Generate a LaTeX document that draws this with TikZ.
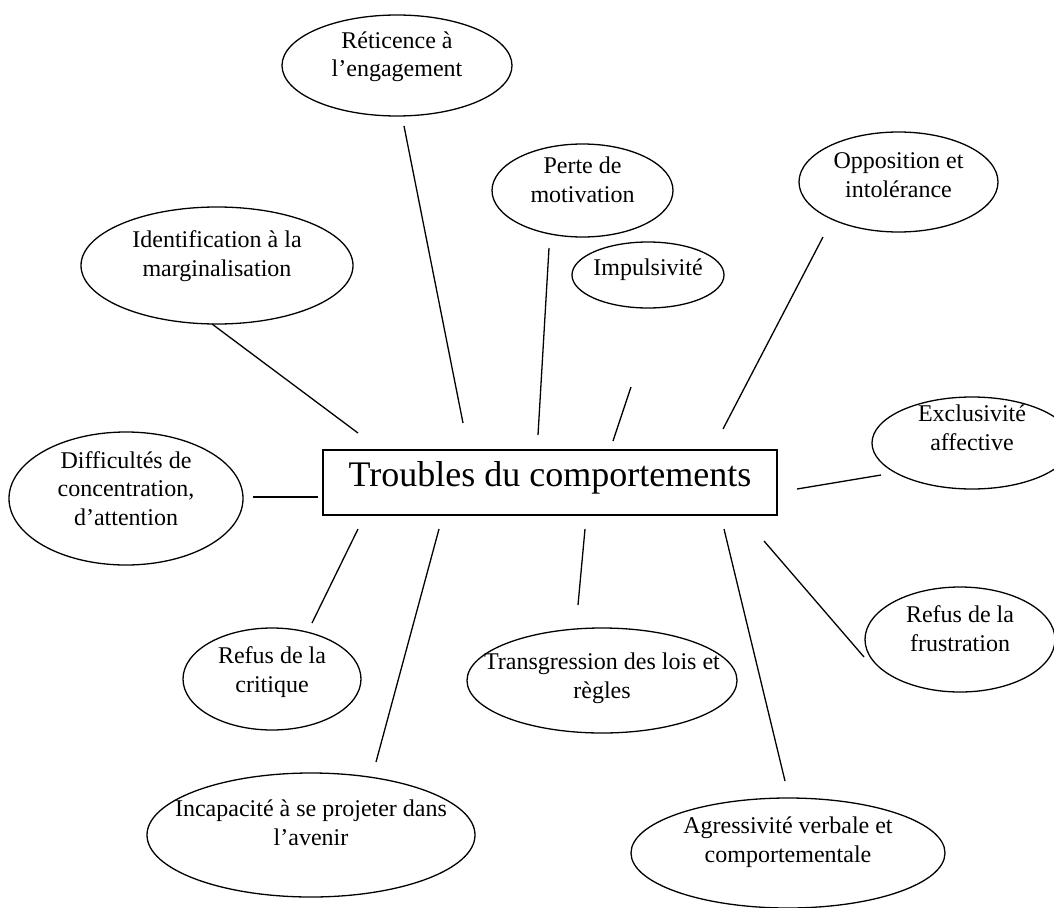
\documentclass[tikz,border=0pt]{standalone}
\usepackage{fontspec}
\setmainfont{Liberation Serif}
\usepackage{tikz}
\usetikzlibrary{shapes}

\begin{document}
\begin{tikzpicture}[x=1pt, y=-1pt, -, line width=1.3pt,
  main node/.style={ellipse, draw, inner sep=0pt},
  box node/.style={rectangle, draw, inner sep=0pt, minimum width=454pt, minimum height=65pt, text height=24pt, text depth=16pt, font=\fontsize{36}{40}\selectfont},
  txt/.style={align=center, font=\fontsize{24}{28.5}\selectfont}]
\clip (0,0) rectangle (1054,907);
\node[box node] (0) at (550,482.5) {Troubles du comportements};
\node[main node, minimum width=230pt, minimum height=101pt, label={[txt, yshift=8.6pt]center:Réticence à\\l’engagement}] (1) at (397,65.5) {};
\node[main node, minimum width=181pt, minimum height=93pt, label={[txt, yshift=10.7pt]center:Perte de\\motivation}] (2) at (582.5,190.5) {};
\node[main node, minimum width=199pt, minimum height=100pt, label={[txt, yshift=7pt]center:Opposition et\\intolérance}] (3) at (898.5,182) {};
\node[main node, minimum width=272pt, minimum height=117pt, label={[txt, yshift=9.6pt]center:Identification à la\\marginalisation}] (4) at (217,265.5) {};
\node[main node, minimum width=152pt, minimum height=66pt, label={[txt, yshift=5pt]center:Impulsivité}] (5) at (648,275) {};
\node[main node, minimum width=200pt, minimum height=92pt, label={[txt, yshift=15pt]center:Exclusivité\\affective}] (6) at (972,443) {};
\node[main node, minimum width=234pt, minimum height=133pt, label={[txt, yshift=10pt]center:Difficultés de\\concentration,\\d’attention}] (7) at (126,498.5) {};
\node[main node, minimum width=178pt, minimum height=102pt, label={[txt, yshift=7pt]center:Refus de la\\critique}] (8) at (272,679) {};
\node[main node, minimum width=328pt, minimum height=124pt, label={[txt, yshift=12pt]center:Incapacité à se projeter dans\\l’avenir}] (9) at (311,835) {};
\node[main node, minimum width=270pt, minimum height=105pt, label={[txt, yshift=2pt]center:Transgression des lois et\\règles}] (10) at (602,680.5) {};
\node[main node, minimum width=314pt, minimum height=110pt, label={[txt, yshift=11pt]center:Agressivité verbale et\\comportementale}] (11) at (788,853) {};
\node[main node, minimum width=190pt, minimum height=105pt, label={[txt, yshift=11pt]center:Refus de la\\frustration}] (12) at (960,639.5) {};
% line ends
\coordinate (1a) at (404,126);  \coordinate (1b) at (463,423);
\coordinate (2a) at (549,248);  \coordinate (2b) at (538,435);
\coordinate (3a) at (823,237);  \coordinate (3b) at (723,429);
\coordinate (4a) at (212,324);  \coordinate (4b) at (358,433);
\coordinate (5a) at (631,387);  \coordinate (5b) at (613,441);
\coordinate (6a) at (881,475);  \coordinate (6b) at (797,489);
\coordinate (7a) at (253,497);  \coordinate (7b) at (318,497);
\coordinate (8a) at (312,623);  \coordinate (8b) at (358,529);
\coordinate (9a) at (376,762);  \coordinate (9b) at (439,529);
\coordinate (10a) at (578,605); \coordinate (10b) at (585,529);
\coordinate (11a) at (785,781); \coordinate (11b) at (724,529);
\coordinate (12a) at (864,657); \coordinate (12b) at (764,541);
\path
(1a) edge (1b)
(2a) edge (2b)
(3a) edge (3b)
(4a) edge (4b)
(5a) edge (5b)
(6a) edge (6b)
(7a) edge (7b)
(8a) edge (8b)
(9a) edge (9b)
(10a) edge (10b)
(11a) edge (11b)
(12a) edge (12b);
\end{tikzpicture}
\end{document}
